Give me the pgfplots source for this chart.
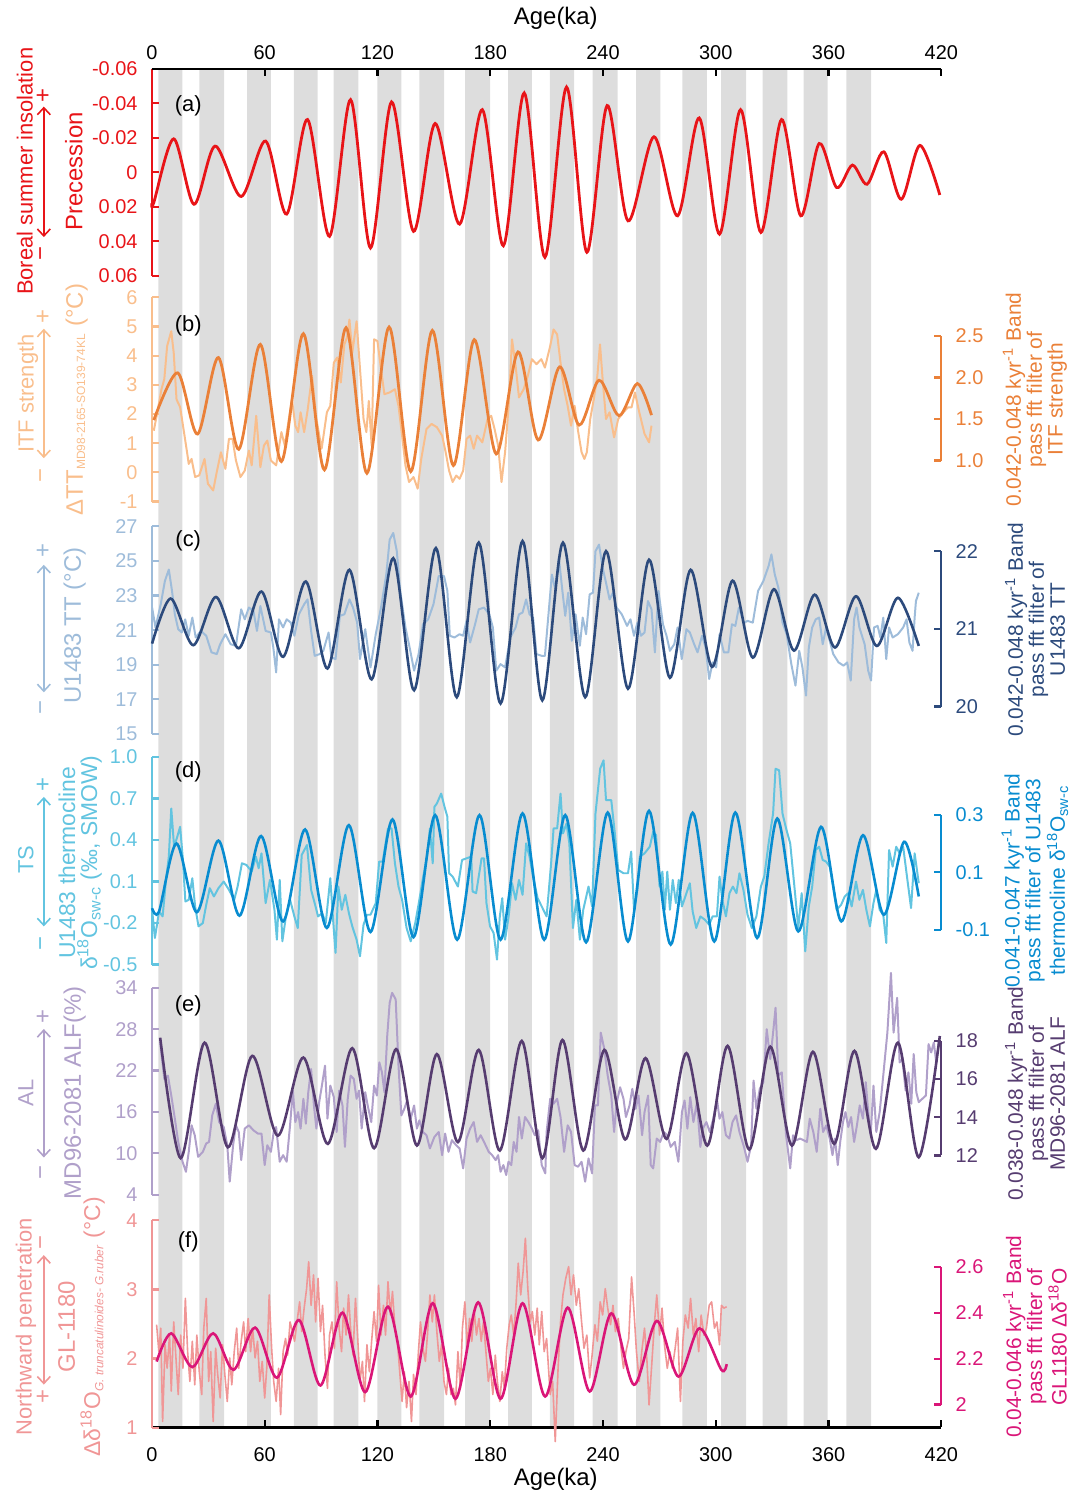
\documentclass[border=0pt]{standalone}
\usepackage{fontspec}
\setmainfont{Liberation Sans}
\usepackage{pgfplots}
\pgfplotsset{compat=1.18}
\usetikzlibrary{arrows.meta}
\definecolor{bandgray}{RGB}{221,221,221}
\definecolor{cPrec}{RGB}{232,20,24}
\definecolor{cItfL}{RGB}{249,190,140}
\definecolor{cItfD}{RGB}{234,128,56}
\definecolor{cTTL}{RGB}{158,188,218}
\definecolor{cTTD}{RGB}{44,74,124}
\definecolor{cTSL}{RGB}{98,196,224}
\definecolor{cTSD}{RGB}{8,140,208}
\definecolor{cALL}{RGB}{176,160,202}
\definecolor{cALD}{RGB}{86,60,112}
\definecolor{cNPL}{RGB}{240,150,150}
\definecolor{cNPD}{RGB}{218,22,120}
\pgfplotsset{
  base/.style={scale only axis, width=396.25pt, xmin=0, xmax=420, clip=false, anchor=south west,
    tick align=inside, major tick length=3.5pt, scaled ticks=false,
    axis line style={-, line width=1.1pt}, tick style={line width=1.1pt},
    tick label style={font=\fontsize{10}{12}\selectfont}},
  lax/.style={base, axis x line=none, axis y line*=left, y axis line style={draw=#1}, ytick style={draw=#1},
    yticklabel style={text=#1, xshift=-3.7pt}},
  rax/.style={base, axis x line=none, axis y line*=right, y axis line style={draw=#1}, ytick style={draw=#1},
    yticklabel style={text=#1, xshift=3.7pt}},
}
\tikzset{
  lab/.style={rotate=90, font=\fontsize{11}{11}\selectfont, inner sep=0pt},
  rlab/.style={rotate=90, align=center, font=\fontsize{10.5}{10.5}\selectfont, inner sep=0pt},
  sg/.style={rotate=90, font=\fontsize{12}{12}\selectfont, inner sep=0pt},
  arr/.style={{Straight Barb[length=3.5pt,width=6.5pt]}-{Straight Barb[length=3.5pt,width=6.5pt]}, line width=0.8pt},
}
\begin{document}
\begin{tikzpicture}
\path (0,0) rectangle (545.5pt,-748.5pt);

% ---------- background bands and bottom axis
\begin{axis}[base, at={(76.25pt,-716.5pt)}, height=682pt, ymin=0, ymax=1, axis on top,
  axis y line=none, axis x line*=bottom, x axis line style={draw=black}, xtick style={draw=black},
  xtick={0,60,120,180,240,300,360,420}, xticklabels={0,60,120,180,240,300,360,420},
  xticklabel style={yshift=-6.5pt}]
\addplot[fill=bandgray, draw=none] coordinates {(3.4,0)(3.4,1)(16.2,1)(16.2,0)(25.2,0)(25.2,1)(38.4,1)(38.4,0)(50.6,0)(50.6,1)(63.3,1)(63.3,0)(75.5,0)(75.5,1)(88.2,1)(88.2,0)(96.7,0)(96.7,1)(109.9,1)(109.9,0)(120,0)(120,1)(132.7,1)(132.7,0)(142.3,0)(142.3,1)(155.5,1)(155.5,0)(166.7,0)(166.7,1)(179.9,1)(179.9,0)(189.5,0)(189.5,1)(202.2,1)(202.2,0)(211.7,0)(211.7,1)(224.7,1)(224.7,0)(234.5,0)(234.5,1)(247.8,1)(247.8,0)(257.6,0)(257.6,1)(270.5,1)(270.5,0)(282.2,0)(282.2,1)(295.2,1)(295.2,0)(302.9,0)(302.9,1)(316.1,1)(316.1,0)(324.9,0)(324.9,1)(338.1,1)(338.1,0)(346.7,0)(346.7,1)(359.5,1)(359.5,0)(369.5,0)(369.5,1)(382.7,1)(382.7,0)};
\draw[black, line width=1.1pt] (axis cs:0,0) -- (axis cs:420,0);
\end{axis}

% ---------- (a) precession
\begin{axis}[base, at={(76.25pt,-138.5pt)}, height=104pt, ymin=-0.06, ymax=0.06, y dir=reverse,
  axis y line*=left, y axis line style={draw=cPrec}, ytick style={draw=cPrec},
  yticklabel style={text=cPrec, xshift=-3.7pt},
  ytick={-0.06,-0.04,-0.02,0,0.02,0.04,0.06}, yticklabels={-0.06,-0.04,-0.02,0,0.02,0.04,0.06},
  axis x line*=top, x axis line style={draw=black}, xtick style={draw=black},
  xtick={0,60,120,180,240,300,360,420}, xticklabels={0,60,120,180,240,300,360,420},
  xticklabel style={yshift=1pt}]
\draw[black, line width=1.1pt] (axis cs:0,-0.06) -- (axis cs:420,-0.06);
\addplot[cPrec, line width=1.4pt, smooth] coordinates {(0,0.018)(1,0.0175)(11.6,-0.0194)(22.4,0.0185)(33.6,-0.0152)(47.5,0.014)(60.5,-0.0181)(71.7,0.0242)(82.8,-0.0306)(94.5,0.0371)(105.7,-0.0421)(116.3,0.0438)(127.5,-0.0408)(139.2,0.0342)(150.7,-0.0283)(163.7,0.030)(175.8,-0.0363)(187,0.0425)(198.1,-0.046)(209.1,0.0492)(220.6,-0.0494)(231.4,0.0463)(242.2,-0.0387)(253.3,0.0281)(267.1,-0.0206)(279.7,0.0252)(291.2,-0.0315)(302,0.0358)(313.2,-0.0363)(324,0.0348)(335,-0.0306)(345.2,0.0252)(355,-0.0167)(364.3,0.0088)(372.7,-0.0042)(380.5,0.0069)(389.4,-0.0119)(398.7,0.0156)(408.6,-0.0156)(419.2,0.0131)};
\end{axis}

% ---------- (b) ITF
\begin{axis}[lax=cItfL, at={(76.25pt,-251.75pt)}, height=102.5pt, ymin=-1, ymax=6,
  ytick={-1,0,1,2,3,4,5,6}, yticklabels={-1,0,1,2,3,4,5,6}]
\addplot[cItfL, line width=1pt, line join=round] coordinates {(1,1.43)(2.9,2.06)(5.1,2.85)(6.6,3.2)(8.1,4.33)(10.3,4.84)(11.6,4.1)(13.1,2.5)(15,2.24)(16.8,1.49)(18.7,0.69)(19.6,0.29)(21.1,0.46)(23,-0.16)(25.2,-0.1)(28,0.46)(29.8,-0.39)(32.6,-0.62)(34.5,0.01)(36.7,0.69)(39.1,0.12)(41,1.15)(42.9,1.15)(44.7,0.41)(47.1,-0.16)(49.4,0.06)(51.6,0.75)(53.1,0.24)(55.5,1.94)(57.7,0.18)(59.6,0.92)(61.4,1.09)(63.3,0.41)(66.1,0.24)(68.9,1.38)(70.7,0.92)(72.6,1.72)(74.5,2.51)(76.3,1.6)(77.8,1.38)(79.1,2.06)(81,1.38)(82.8,2.11)(85.2,3.31)(87.5,1.83)(90.3,0.81)(93.1,2.06)(94.9,2.28)(96.8,3.76)(98.6,3.94)(100.5,3.08)(102.4,4.39)(103.8,4.62)(105.1,5.24)(106.6,4.1)(108.9,5.18)(111.1,3.2)(112.6,1.83)(114.1,1.38)(115.4,2.45)(116.9,0.92)(118.2,4.56)(120,4.5)(121.9,3.54)(123.7,2.68)(126.5,2.74)(129.3,2.85)(131.2,2.28)(133.1,1.26)(134.9,0.24)(136.8,-0.33)(139.2,-0.16)(141.4,-0.56)(143.3,0.46)(146.1,1.49)(148.8,1.66)(151.6,1.55)(154.4,1.26)(156.3,0.69)(158.1,0.06)(160,-0.33)(161.9,-0.11)(163.7,-0.22)(165.6,0.06)(167.4,1.15)(169.3,1.26)(171.2,0.81)(173,1.26)(175.8,1.03)(178.6,1.83)(180.5,1.94)(182.3,1.49)(184.2,0.92)(186,-0.33)(187.9,0.69)(189.8,2.28)(191.6,4.56)(193.5,3.65)(195.3,2.57)(197.8,2.85)(200,3.31)(202.2,3.88)(204.6,3.71)(207.2,3.88)(209.1,3.59)(211.9,4.33)(213.7,4.9)(215.6,4.73)(217.4,3.76)(219.3,2.85)(221.2,2.28)(223,1.6)(224.9,2.28)(226.7,1.43)(228.6,0.69)(230.1,0.46)(231.4,0.69)(233.2,1.83)(235.1,2.51)(237,3.31)(238.4,4.39)(239.8,3.2)(241.6,1.83)(243.5,2.06)(245.9,1.2)(248.1,1.83)(250.9,2.06)(253.3,2.23)(255.2,2.23)(257,2.74)(259.3,2.06)(262.1,1.32)(264.5,1.03)(265.8,1.6)};
\end{axis}
\begin{axis}[rax=cItfD, at={(76.25pt,-231.15pt)}, height=62.5pt, ymin=1, ymax=2.5,
  ytick={1,1.5,2,2.5}, yticklabels={1.0,1.5,2.0,2.5}]
\addplot[cItfD, line width=1.4pt, smooth] coordinates {(1,1.487)(13.7,2.056)(24.3,1.319)(35.4,2.24)(46.2,1.135)(57.7,2.399)(68.9,0.988)(80.6,2.528)(91.8,0.887)(103.3,2.6)(114.4,0.847)(126.2,2.608)(137.7,0.867)(149.2,2.567)(160.4,0.94)(171.5,2.456)(183.2,1.079)(194.8,2.308)(205.5,1.247)(216.9,2.128)(227.3,1.427)(237.9,1.967)(248.5,1.54)(258.3,1.927)(265.8,1.547)};
\end{axis}

% ---------- (c) U1483 TT
\begin{axis}[lax=cTTL, at={(76.25pt,-368.35pt)}, height=104.2pt, ymin=15, ymax=27,
  ytick={15,17,19,21,23,25,27}, yticklabels={15,17,19,21,23,25,27}]
\addplot[cTTL, line width=1pt, line join=round] coordinates {(0.1,22.3)(1.9,21.15)(4.7,22.49)(6.9,23.83)(9,24.5)(10.7,23.26)(12.2,21.91)(14,21.05)(15.9,20.86)(17.7,21.62)(19.6,20.67)(21.5,21.72)(23.3,20.57)(26.1,20.95)(28.9,20.67)(31.7,19.71)(34.5,19.61)(36.3,20.18)(39.1,20.76)(41.9,20.18)(44.7,20.09)(47.5,22.2)(49.4,21.62)(51.6,22.3)(54,22.11)(55.9,20.95)(57.7,22.39)(60.5,20.95)(63.3,20.86)(64.6,19.99)(66.1,18.55)(67.6,21.62)(69.8,21.15)(71.7,21.62)(73.9,21.43)(75.8,20.67)(78.2,21.91)(81,22.49)(82.8,22.77)(84.7,20.95)(86.6,19.51)(89.3,19.61)(91.2,19.8)(94,20.86)(95.5,19.42)(97.7,19.32)(100,21.82)(102.4,21.91)(105.1,22.77)(107,22.3)(109.2,21.43)(110.7,19.32)(113.5,21.05)(116.3,18.84)(119.1,20.76)(121.9,22.3)(124.7,24.21)(126.5,26.23)(128.4,26.61)(130.3,25.56)(132.1,23.26)(134.9,21.15)(137.1,20)(139.5,18.65)(141.9,19.61)(144.2,21.33)(147,21.62)(149.8,22.49)(152.6,24.12)(155.4,24.12)(157.2,23.26)(158.5,20.67)(161,20.57)(163.7,20.76)(165.6,20.67)(167.4,21.53)(169.3,20.28)(171.7,21.24)(173.9,22.2)(176.7,22.3)(179.5,21.91)(181.4,21.15)(183.2,18.65)(185.5,19.03)(187.9,18.84)(190.7,20.57)(193.5,21.15)(195.3,21.91)(197.2,22.01)(199.1,22.77)(200.9,21.91)(202.8,21.72)(204.6,19.61)(207.4,19.51)(209.1,19.51)(212.8,24.21)(214.6,23.35)(216.5,25.18)(218.4,23.26)(219.9,21.82)(221.5,23.16)(223.4,20.38)(225.4,21.91)(227.7,20.09)(229.2,21.72)(231,20.76)(232.9,23.06)(234.7,23.16)(236,25.56)(237.9,25.94)(239.8,24.6)(241.6,23.74)(243.5,22.77)(245.3,23.16)(247.2,22.3)(250,21.91)(252.8,21.24)(254.6,21.62)(256.5,20.67)(258.3,21.43)(260.2,20.67)(262.1,20.86)(263.9,22.68)(265.8,22.2)(267.6,19.71)(269.5,23.26)(271.9,21.33)(273.8,20.67)(275.6,19.8)(277.9,20.18)(279.7,21.15)(281.9,19.32)(284.4,21.05)(286.2,20.86)(288.5,20.18)(290.3,19.71)(292.7,20.67)(294.6,19.99)(296.5,18.17)(298.3,19.13)(300.2,18.84)(302,20.76)(304.3,19.71)(306.7,19.71)(308.6,21.33)(310.4,21.24)(312.3,22.3)(315.1,21.43)(316.9,21.53)(319.7,21.43)(322.5,23.26)(325.3,23.83)(328.1,24.7)(329.6,25.37)(331.4,24.21)(333.3,23.45)(335.5,21.43)(337.7,20.76)(340.2,19.03)(342.4,17.79)(344.4,19.8)(346.1,18.84)(348,17.21)(349.5,19.99)(351.3,21.15)(353.2,21.62)(355,21.72)(356.9,20.18)(358.7,21.15)(360.6,20.38)(362.5,19.61)(365.3,19.13)(368,18.94)(369.9,19.13)(371.8,18.08)(373.6,21.62)(374.9,22.3)(376.4,21.15)(379.2,20.18)(381.1,18.65)(382.6,18.08)(384.2,21.15)(386.1,21.24)(387.6,20.57)(389.1,21.72)(390.7,19.32)(392.2,21.15)(394.1,20.57)(396.9,20.76)(399.7,21.15)(401.5,21.62)(403,20.28)(404.7,19.8)(405.8,21.72)(406.5,22.68)(408,23.16)};
\end{axis}
\begin{axis}[rax=cTTD, at={(76.25pt,-354.65pt)}, height=78pt, ymin=20, ymax=22,
  ytick={20,21,22}, yticklabels={20,21,22}]
\addplot[cTTD, line width=1.3pt, smooth] coordinates {(0.1,20.81)(10,21.39)(22,20.79)(34.1,21.41)(46.2,20.75)(58.3,21.48)(69.8,20.64)(81.9,21.61)(93.4,20.49)(105.1,21.76)(116.9,20.35)(128.4,21.91)(139.5,20.21)(151.1,22.04)(162.2,20.12)(173.9,22.11)(185.5,20.04)(197.2,22.13)(207.7,20.08)(218.7,22.11)(230.5,20.12)(241.6,22.0)(253.3,20.23)(264.5,21.89)(275.6,20.37)(286.6,21.76)(298,20.51)(308.9,21.62)(319.7,20.63)(330.9,21.51)(341.6,20.72)(352.6,21.44)(363.4,20.76)(374.6,21.42)(385.7,20.78)(396.9,21.4)(408,20.78)};
\end{axis}

% ---------- (d) TS
\begin{axis}[lax=cTSL, at={(76.25pt,-484.15pt)}, height=104.15pt, ymin=-0.5, ymax=1.0,
  ytick={-0.5,-0.2,0.1,0.4,0.7,1.0}, yticklabels={-0.5,-0.2,0.1,0.4,0.7,1.0}]
\addplot[cTSL, line width=1pt, line join=round] coordinates {(0.1,-0.104)(1.6,-0.308)(3.8,-0.116)(5.7,-0.152)(7.5,0.112)(9,0.28)(10.3,0.628)(11.8,0.352)(13.5,0.424)(15,0.496)(16.5,0.256)(17.8,-0.044)(19.6,-0.032)(21.5,0.124)(23,-0.08)(24.8,-0.224)(27.1,-0.2)(28.9,-0.068)(30.8,0.052)(33,-0.008)(35.4,0.052)(38.2,0.1)(41,0.04)(43.8,-0.032)(45.6,0.064)(47.9,0.232)(50.3,0.22)(53.1,0.172)(55.3,0.28)(56.8,0.196)(58.3,0.304)(60.5,-0.056)(62.8,0.112)(65.2,-0.104)(66.5,-0.32)(68,0.112)(69.4,-0.332)(71.3,-0.152)(73.5,-0.032)(75.8,-0.152)(77.6,-0.236)(79.7,0.292)(82.5,0.364)(84.7,0.04)(86.6,-0.056)(88.4,-0.152)(90.6,-0.128)(92.5,-0.2)(94.9,0.124)(96.4,-0.176)(97.7,-0.416)(99.2,0.064)(101,-0.104)(102.9,0.004)(104.8,-0.128)(106.6,-0.224)(108.9,-0.32)(110.7,-0.44)(112.6,-0.212)(114.4,-0.14)(116.3,-0.14)(119.1,-0.056)(120.9,0.244)(122.8,0.244)(125.6,0.484)(127.5,0.484)(129.3,0.232)(131.2,0.064)(133.1,-0.032)(135.5,-0.236)(137.7,-0.332)(140.1,-0.2)(142,-0.056)(144.2,0.124)(146.4,0.28)(147.9,0.484)(149.4,0.232)(150.3,0.64)(151.6,0.664)(153.9,0.736)(155.7,0.64)(157.2,0.568)(158.1,0.16)(160,0.136)(162.8,0.064)(165,0.256)(167.4,0.268)(169.9,0.28)(170.6,0.028)(172.5,0.016)(175.4,0.268)(176.7,0.268)(178,-0.056)(179.9,-0.224)(181.8,-0.272)(183.6,-0.464)(185.1,-0.152)(186.4,-0.02)(187.9,-0.32)(189.8,-0.152)(191.6,0.088)(193.5,-0.032)(195.3,0.112)(197.2,0.004)(199.1,0.376)(200.9,0.28)(202.8,0.136)(205.2,-0.02)(207.4,-0.08)(210,-0.152)(212.4,0.232)(213.7,0.484)(215.6,0.484)(217.4,0.736)(218.7,0.448)(220.6,0.52)(222.1,0.376)(224,-0.236)(225.8,-0.032)(227.7,-0.32)(229.5,-0.104)(232.3,0.064)(234.2,-0.08)(236,0.592)(238.5,0.916)(240.3,0.976)(241.6,0.688)(244.4,0.688)(246.3,0.448)(248.1,0.184)(250.9,0.16)(253.3,0.16)(255,0.316)(256.5,-0.104)(258.3,0.04)(259.6,0.28)(262.1,0.304)(264.9,0.352)(266.7,0.46)(268.2,0.436)(270.1,0.064)(271.6,0.172)(272.9,-0.104)(274.2,0.172)(275.6,-0.104)(277.1,0.112)(278.8,-0.056)(280.3,0.112)(282,-0.08)(284.4,0.016)(286.2,0.088)(287.7,-0.116)(289.6,-0.236)(291.8,-0.152)(294.2,-0.176)(296.5,-0.212)(298.3,-0.152)(300.6,-0.152)(302,0.136)(303.5,-0.032)(305.4,-0.152)(307.3,0.016)(309.1,0.064)(311,0.016)(312.6,0.16)(314.7,0.04)(316.9,-0.14)(319.2,-0.236)(321.6,-0.152)(324,0.064)(325.8,0.136)(328.1,0.376)(330.5,0.592)(331.8,0.916)(333.7,0.904)(335.5,0.592)(337.4,0.484)(339.6,0.376)(342,0.04)(343.9,-0.236)(345.7,0.016)(347.6,-0.404)(349.5,-0.08)(351.3,0.064)(353.2,0.328)(355,0.352)(356.9,0.256)(358.7,0.244)(360.6,0.208)(362.5,0.064)(364.3,-0.104)(366.7,-0.068)(368.6,-0.008)(370.5,0.016)(372.3,-0.08)(374.6,0.1)(376.4,-0.032)(378.3,0.04)(380.1,-0.104)(382,-0.224)(383.9,-0.056)(385.4,0.04)(387.2,-0.104)(389.1,-0.14)(390.7,-0.344)(392.2,0.328)(394.1,0.208)(396,0.352)(397.8,0.304)(399.7,0.352)(401.5,0.16)(403.9,-0.092)(405.8,0.304)(408,0.088)};
\end{axis}
\begin{axis}[rax=cTSD, at={(76.25pt,-466.65pt)}, height=57.5pt, ymin=-0.1, ymax=0.3,
  ytick={-0.1,0.1,0.3}, yticklabels={-0.1,0.1,0.3}]
\addplot[cTSD, line width=1.3pt, smooth] coordinates {(0.1,-0.025)(3.8,-0.036)(13.1,0.201)(23.9,-0.039)(35.4,0.211)(46.6,-0.051)(58.1,0.227)(69.8,-0.071)(81.5,0.25)(93.1,-0.094)(104.8,0.265)(116.3,-0.108)(128,0.285)(139.2,-0.126)(150.7,0.30)(162.4,-0.135)(174.3,0.30)(185.5,-0.135)(197.2,0.306)(208.7,-0.135)(219.9,0.30)(231,-0.144)(242.5,0.309)(253.3,-0.141)(264.5,0.315)(276,-0.152)(287.7,0.308)(299.2,-0.141)(310.4,0.309)(322,-0.129)(332.7,0.288)(343.9,-0.106)(356,0.259)(366.8,-0.071)(378.3,0.23)(389.4,-0.048)(400.2,0.207)(408,0.016)};
\end{axis}

% ---------- (e) AL
\begin{axis}[lax=cALL, at={(76.25pt,-599.65pt)}, height=103.8pt, ymin=4, ymax=34,
  ytick={4,10,16,22,28,34}, yticklabels={4,10,16,22,28,34}]
\addplot[cALL, line width=1pt, line join=round] coordinates {(4.4,26.07)(6.6,20.79)(8.5,21.27)(10.3,18.38)(12.2,15.02)(14,11.65)(16.3,8.77)(18.1,7.32)(19.6,10.21)(21.1,14.06)(22.8,12.62)(24.6,9.49)(27.1,10.21)(28.9,11.42)(30.4,11.65)(32.1,15.5)(34,17.19)(35.8,14.53)(38.2,13.81)(40.1,11.17)(41.4,5.88)(43.2,11.17)(44.7,14.06)(46.2,13.09)(47.5,9.01)(49.4,13.58)(51.6,14.06)(54,13.34)(56.4,12.86)(58.3,12.86)(60,8.29)(61.4,11.17)(63.3,10.21)(64.8,13.09)(66.1,13.81)(68,8.77)(69.8,9.73)(71.7,8.77)(73.5,14.06)(75,19.1)(76.3,14.53)(77.8,15.98)(79.1,13.58)(80.6,17.91)(81.9,14.3)(83.2,18.86)(84.7,22.23)(86.2,16.94)(87.5,13.58)(89,17.42)(90.3,19.58)(92.1,22.71)(93.4,15.02)(94.9,19.82)(96.8,18.14)(98.3,13.09)(99.6,19.1)(101.4,16.94)(102.7,10.93)(104.2,17.91)(105.7,21.27)(107.4,20.79)(108.9,17.91)(110.2,19.1)(111.6,13.58)(113.5,18.86)(114.8,16.94)(116.7,14.53)(118.2,19.82)(119.7,18.38)(121,23.19)(122.4,21.74)(123.7,18.86)(125.2,27.04)(126.5,31.84)(127.8,33.28)(129.7,32.33)(131.2,22.71)(132.7,15.5)(134.3,16.46)(135.8,17.66)(137.7,15.02)(139.5,16.94)(141,13.58)(142.3,14.78)(144.2,13.09)(146.1,12.62)(147.9,10.7)(150.3,12.37)(152.6,13.09)(154.4,9.73)(156,12.86)(157.8,10.21)(159.6,11.9)(161.9,11.17)(163.7,10.7)(165.6,7.81)(167.4,12.14)(169.3,13.58)(171.2,14.53)(173,11.65)(174.9,12.62)(176.7,11.65)(179.2,10.21)(181,9.73)(182.9,9.01)(184.2,9.73)(185.5,7.32)(187,8.29)(188.5,6.85)(189.7,8.77)(191.2,8.29)(192.5,11.65)(194,10.21)(195.3,15.26)(196.8,12.14)(198.5,15.26)(200.3,14.53)(202.2,13.58)(203.7,12.62)(205.5,13.34)(207.4,8.29)(209.3,7.09)(210,13.09)(211.9,17.91)(213.7,17.19)(215.6,17.91)(217.4,15.26)(219.3,10.21)(221.2,14.06)(223,13.09)(224.9,8.29)(226.7,8.05)(228.6,8.77)(230.5,5.88)(232.3,9.25)(234.2,7.09)(235.7,16.94)(237.3,16.94)(238.8,27.51)(240.7,25.12)(242.5,21.27)(244.4,18.38)(245.9,13.09)(247.2,17.19)(249.1,19.58)(250.9,17.91)(252.2,15.26)(254.1,16.94)(255.6,19.35)(257.4,16.46)(258.9,18.38)(260.8,12.62)(262.1,15.98)(264,18.38)(265.4,8.29)(266.7,7.81)(268.6,12.14)(270.4,11.65)(272.3,13.09)(274.2,12.62)(276,10.93)(278.2,11.65)(280.1,8.77)(282,15.98)(283.4,17.66)(284.9,13.58)(286.4,18.14)(288.1,14.53)(290,17.42)(291.8,10.93)(293.1,13.58)(295,14.53)(296.8,13.09)(298.7,15.02)(300.6,17.91)(302,15.02)(303.5,15.98)(305.4,12.62)(307.2,12.14)(308.9,14.53)(310.8,15.5)(312.6,13.09)(315,10.93)(316.9,8.77)(318.8,11.17)(320.1,20.55)(321.6,16.46)(323.4,19.35)(325.3,20.31)(327.1,28.0)(329,23.67)(330.5,27.51)(331.8,31.12)(333.3,21.27)(335.1,21.74)(337.4,12.62)(339.6,7.81)(341.1,12.62)(343,11.9)(344.8,12.14)(346.7,11.9)(348.5,11.65)(350,15.02)(351.9,13.09)(353.7,10.21)(355.6,16.46)(357.1,13.09)(358.8,14.06)(360.6,12.14)(362.1,9.73)(363.4,12.14)(364.9,8.29)(366.2,11.65)(367.7,14.53)(369,15.98)(370.5,13.81)(372,15.26)(373.6,11.65)(375.1,14.06)(376.6,16.94)(378.3,15.02)(379.8,20.31)(381.1,15.98)(382.4,12.62)(383.9,19.82)(385.4,13.09)(387.2,15.98)(389.1,21.27)(391.3,27.51)(393.2,36.16)(394.6,27.51)(396.5,32.56)(397.8,23.19)(399.3,23.67)(401,19.1)(402.5,21.74)(404,17.19)(405.3,24.4)(406.7,18.86)(408,17.42)(409.9,17.91)(411.8,18.38)(413.2,25.84)(414.6,24.63)(416,26.07)(417.3,23.19)(418.8,26.56)};
\end{axis}
\begin{axis}[rax=cALD, at={(76.25pt,-580pt)}, height=57.5pt, ymin=12, ymax=18,
  ytick={12,14,16,18}, yticklabels={12,14,16,18}]
\addplot[cALD, line width=1.3pt, smooth] coordinates {(4.4,18.17)(15.3,11.86)(28,17.91)(40.4,12.43)(53.4,17.22)(67,13.04)(80.6,17.13)(93.6,12.61)(106.6,17.62)(118.2,12.38)(129.9,17.57)(141,12.52)(151.6,17.31)(162.8,12.7)(173.9,17.53)(185.1,12.26)(196.8,18.0)(207.8,11.86)(218.4,18.05)(229.5,12.26)(240.7,17.53)(251.8,12.84)(262.6,17.1)(273.8,12.87)(284.4,17.36)(295.5,12.52)(306.3,17.74)(317.8,12.31)(329,17.7)(340.5,12.52)(351.7,17.43)(363,12.61)(373.8,17.48)(385.2,12.35)(396.9,17.91)(408,11.91)(419.2,18.26)};
\end{axis}

% ---------- (f) GL-1180
\begin{axis}[lax=cNPL, at={(76.25pt,-716.65pt)}, height=104.15pt, ymin=1, ymax=4,
  ytick={1,2,3,4}, yticklabels={1,2,3,4}]
\addplot[cNPL, line width=0.8pt, line join=round] coordinates {(2.5,2.49)(3.7,2.10)(4.7,2.44)(5.7,1.09)(7,2.20)(8.1,1.86)(9.4,2.34)(10.3,1.53)(11.6,2.53)(12.7,2.05)(14,1.48)(15.3,2.34)(16.5,1.86)(17.8,2.87)(19,2.10)(20.2,1.67)(21.5,2.25)(22.8,1.62)(23.9,2.34)(25.2,1.81)(26.5,1.48)(27.6,2.44)(28.9,2.87)(30.2,1.67)(31.3,2.10)(32.6,1.09)(33.9,2.15)(35,1.77)(36.3,1.43)(37.6,2.20)(38.8,1.77)(40.1,1.38)(41.4,2.01)(42.5,1.62)(43.8,2.10)(45.1,2.44)(46.2,1.86)(47.5,2.25)(48.8,2.53)(49.9,2.10)(51.2,2.58)(52.5,2.10)(53.6,2.44)(54.9,2.01)(56.2,2.25)(57.4,1.67)(58.7,1.96)(60,1.43)(61.1,1.86)(62.4,2.92)(63.7,2.15)(64.8,1.67)(66.1,1.38)(67.4,1.86)(68.5,1.19)(69.8,2.10)(71.1,2.29)(72.2,2.05)(73.5,2.53)(74.8,2.39)(75.9,2.25)(77.2,2.53)(78.6,2.82)(79.7,2.39)(81,2.73)(82.3,3.01)(83.4,3.40)(84.7,2.77)(86,3.21)(87.1,2.53)(88.4,3.16)(89.7,2.39)(90.8,2.77)(92.1,2.05)(93.4,1.57)(94.5,2.34)(95.8,2.53)(97.1,2.15)(98.3,3.11)(99.6,2.44)(100.9,2.10)(102,2.73)(103.3,2.34)(104.6,2.92)(105.7,2.44)(107,2.05)(108.3,2.87)(109.4,2.34)(110.7,1.67)(112,1.96)(113.1,1.38)(114.4,2.20)(115.7,1.81)(116.9,2.25)(118.2,2.68)(119.5,2.25)(120.6,3.06)(121.9,2.34)(123.2,2.77)(124.3,2.34)(125.6,3.11)(126.9,2.63)(128,2.97)(129.3,2.44)(130.6,2.25)(131.7,1.86)(133.1,1.38)(134.3,1.81)(135.5,1.29)(136.8,1.67)(138.1,1.09)(139.2,1.77)(140.5,1.48)(141.8,2.10)(142.9,2.53)(144.2,2.15)(145.5,1.96)(146.6,2.34)(147.9,2.92)(149.2,2.53)(150.3,2.92)(151.6,2.39)(152.9,1.96)(154.1,2.20)(155.4,1.67)(156.7,1.48)(157.8,1.86)(159.1,1.48)(160.4,1.57)(161.5,1.33)(162.8,2.10)(164.1,1.57)(165.2,2.44)(166.5,2.82)(167.8,2.15)(169,2.58)(170.2,2.25)(171.5,2.68)(172.7,2.34)(174,2.58)(175.2,2.25)(176.4,2.53)(177.7,2.10)(179,1.67)(180.1,1.86)(181.4,1.48)(182.7,2.05)(183.8,1.67)(185.1,1.38)(186.4,1.81)(187.5,1.57)(188.8,2.15)(190.1,2.49)(191.2,2.63)(192.5,2.34)(193.8,2.82)(194.9,3.38)(196.2,2.92)(197.5,3.26)(198.7,3.74)(200,3.01)(201.3,2.53)(202.4,2.68)(203.7,2.34)(205,2.73)(206.1,2.20)(207.4,2.68)(208.7,2.10)(210,2.29)(211.9,1.48)(213.2,1.67)(214.6,0.80)(216.1,1.86)(217.4,2.53)(218.7,2.92)(220.2,3.16)(221.7,3.33)(223,2.92)(224.3,3.21)(225.8,2.77)(227.1,3.01)(228.6,2.53)(229.9,2.15)(231.4,2.34)(232.9,1.72)(234.2,2.05)(235.7,2.49)(237,2.25)(238.5,2.82)(239.8,2.63)(241.2,3.01)(242.5,2.73)(244,2.49)(245.3,2.77)(246.6,2.39)(248.1,2.58)(249.6,2.15)(250.9,1.86)(252.2,2.10)(253.7,2.29)(255.2,3.18)(256.5,2.68)(257.8,2.10)(259.3,1.67)(260.6,2.10)(262.1,2.44)(263.4,1.96)(264.5,1.33)(265.8,1.86)(267.3,2.49)(268.6,2.92)(270.1,2.34)(271.4,2.73)(272.7,2.20)(274.2,1.86)(275.6,2.10)(276.9,1.86)(278.4,2.15)(279.7,2.44)(281.2,1.38)(282.5,2.25)(283.8,2.63)(285.3,2.44)(286.6,2.87)(288.1,2.34)(289.4,2.58)(290.9,2.10)(292.2,2.63)(293.7,2.34)(295,2.44)(296.5,2.77)(297.8,2.82)(299.3,2.44)(300.6,2.53)(302,2.20)(303,2.77)(304.3,2.73)(305.8,2.75)};
\end{axis}
\begin{axis}[rax=cNPD, at={(76.25pt,-705pt)}, height=69.15pt, ymin=2, ymax=2.6,
  ytick={2,2.2,2.4,2.6}, yticklabels={2,2.2,2.4,2.6}]
\addplot[cNPD, line width=1.3pt, smooth] coordinates {(2.5,2.187)(10.3,2.31)(21.5,2.163)(32.6,2.31)(43.4,2.151)(54.9,2.335)(66.5,2.117)(78.2,2.368)(89.7,2.083)(101.4,2.40)(113.5,2.054)(125.6,2.426)(137.7,2.035)(149.4,2.441)(161.5,2.025)(173.6,2.445)(185.5,2.025)(197.2,2.441)(209.2,2.035)(221.2,2.422)(232.9,2.057)(244.4,2.397)(256.5,2.086)(268.6,2.364)(280.1,2.122)(291.3,2.332)(303,2.151)(305.8,2.176)};
\end{axis}

% ---------- titles and labels
\node[font=\fontsize{12}{12}\selectfont] at (279pt,-9pt) {Age(ka)};
\node[font=\fontsize{12}{12}\selectfont] at (279pt,-742.5pt) {Age(ka)};
\foreach \l/\yy in {a/-53.35, b/-163.35, c/-271.5, d/-387.5, e/-505, f/-623.35}
  \node[font=\fontsize{11}{11}\selectfont] at (94.5pt,\yy pt) {(\l)};

% (a)
\node[lab, text=cPrec] at (12.5pt,-86pt) {Boreal summer insolation};
\node[lab, text=cPrec, font=\fontsize{12}{12}\selectfont] at (37pt,-86pt) {Precession};
\draw[arr, cPrec] (22pt,-53.5pt) -- (22pt,-119pt);
\node[sg, text=cPrec] at (22pt,-48pt) {+};
\node[sg, text=cPrec] at (22pt,-127.5pt) {−};
% (b)
\node[lab, text=cItfL] at (14pt,-197.5pt) {ITF strength};
\node[lab, text=cItfL, font=\fontsize{12}{12}\selectfont] at (38.5pt,-200.5pt) {ΔTT{\fontsize{9}{9}\selectfont\textsubscript{MD98-2165-SO139-74KL}} (°C)};
\draw[arr, cItfL] (22pt,-165pt) -- (22pt,-230pt);
\node[sg, text=cItfL] at (22pt,-159pt) {+};
\node[sg, text=cItfL] at (22pt,-238.5pt) {−};
\node[rlab, text=cItfD] at (519.5pt,-200.5pt) {0.042-0.048 kyr\textsuperscript{-1} Band\\pass fft filter of\\ITF strength};
% (c)
\node[lab, text=cTTL, font=\fontsize{12}{12}\selectfont] at (37.5pt,-314pt) {U1483 TT (°C)};
\draw[arr, cTTL] (22pt,-283.5pt) -- (22pt,-347.5pt);
\node[sg, text=cTTL] at (22pt,-276.5pt) {+};
\node[sg, text=cTTL] at (22pt,-355pt) {−};
\node[rlab, text=cTTD] at (519.5pt,-316pt) {0.042-0.048 kyr\textsuperscript{-1} Band\\pass fft filter of\\U1483 TT};
% (d)
\node[lab, text=cTSL] at (13pt,-431.5pt) {TS};
\node[lab, text=cTSL, align=center, font=\fontsize{11.5}{10}\selectfont] at (40.25pt,-433pt) {U1483 thermocline\\δ\textsuperscript{18}O\textsubscript{sw-c} (‰, SMOW)};
\draw[arr, cTSL] (22pt,-400pt) -- (22pt,-465pt);
\node[sg, text=cTSL] at (22pt,-394pt) {+};
\node[sg, text=cTSL] at (22pt,-473.5pt) {−};
\node[rlab, text=cTSD] at (519.5pt,-442pt) {0.041-0.047 kyr\textsuperscript{-1} Band\\pass fft filter of U1483\\thermocline δ\textsuperscript{18}O\textsubscript{sw-c}};
% (e)
\node[lab, text=cALL] at (13pt,-548.5pt) {AL};
\node[lab, text=cALL, font=\fontsize{12}{12}\selectfont] at (37.5pt,-548.5pt) {MD96-2081 ALF(\%)};
\draw[arr, cALL] (22pt,-516.5pt) -- (22pt,-581pt);
\node[sg, text=cALL] at (22pt,-510pt) {+};
\node[sg, text=cALL] at (22pt,-588.5pt) {−};
\node[rlab, text=cALD] at (519.5pt,-549pt) {0.038-0.048 kyr\textsuperscript{-1} Band\\pass fft filter of\\MD96-2081 ALF};
% (f)
\node[lab, text=cNPL] at (13pt,-666pt) {Northward penetration};
\node[lab, text=cNPL, font=\fontsize{12}{12}\selectfont] at (33.5pt,-666pt) {GL-1180};
\node[lab, text=cNPL, font=\fontsize{11.5}{11.5}\selectfont] at (46.5pt,-666pt) {Δδ\textsuperscript{18}O{\fontsize{8.5}{8.5}\selectfont\textsubscript{\itshape G. truncatulinoides- G.ruber}} (°C)};
\draw[arr, cNPL] (22pt,-630pt) -- (22pt,-695pt);
\node[sg, text=cNPL] at (22pt,-623.5pt) {−};
\node[sg, text=cNPL] at (22pt,-701pt) {+};
\node[rlab, text=cNPD] at (519.5pt,-671pt) {0.04-0.046 kyr\textsuperscript{-1} Band\\pass fft filter of\\GL1180 Δδ\textsuperscript{18}O};
\end{tikzpicture}
\end{document}
